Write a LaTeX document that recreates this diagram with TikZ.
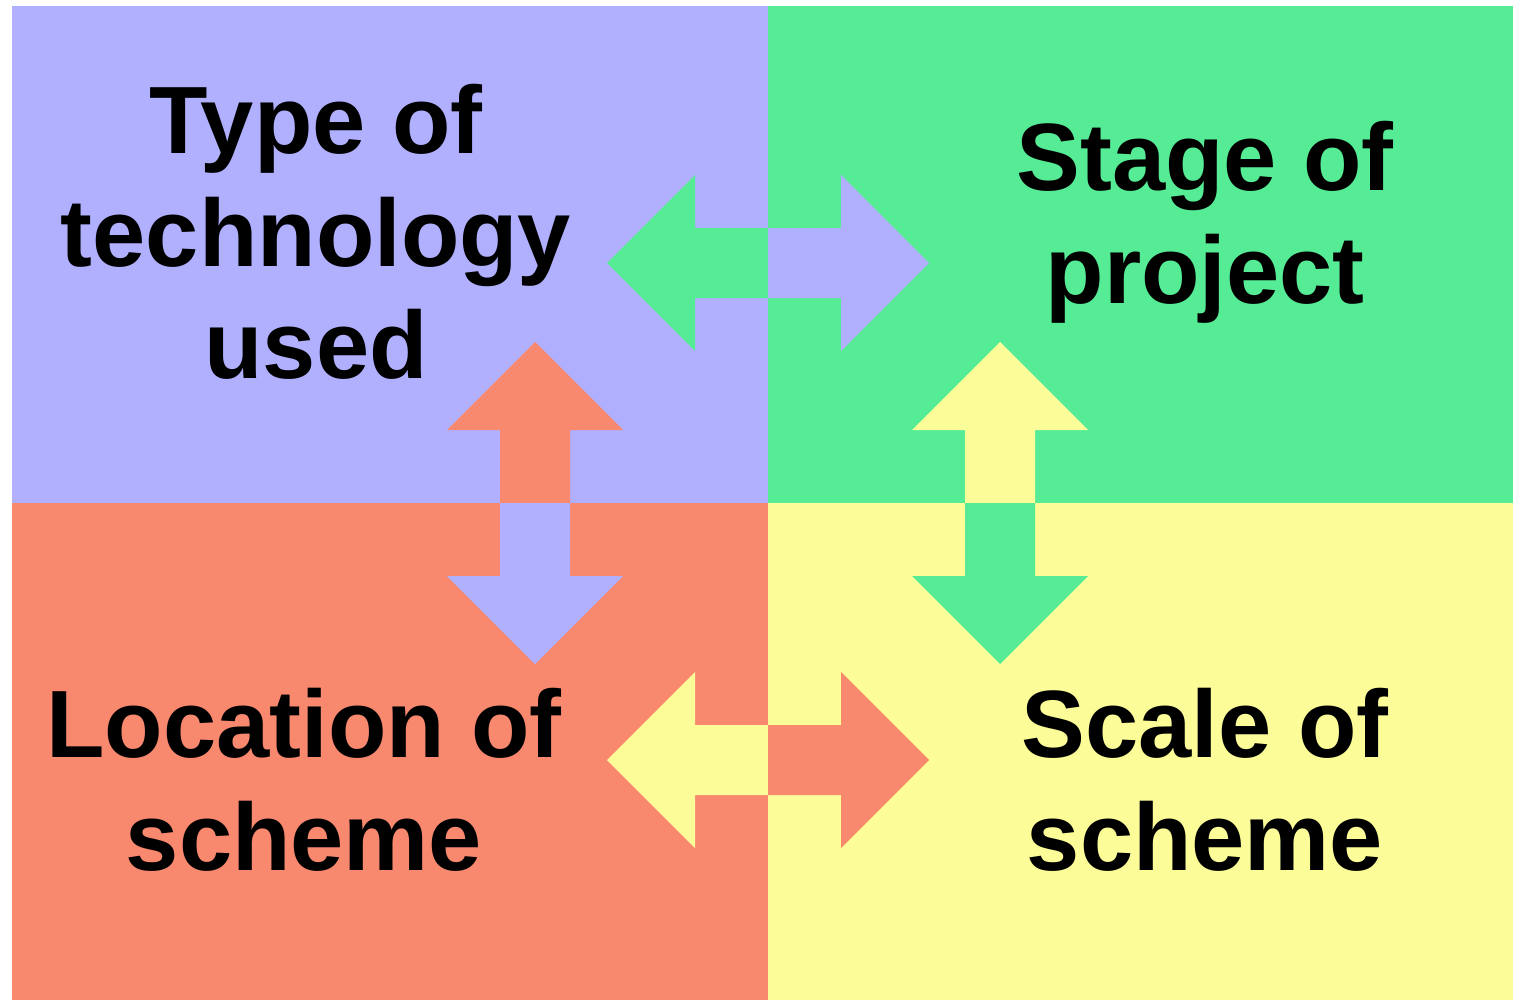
\documentclass[tikz,border=0pt]{standalone}
\usepackage{fontspec}
\setmainfont{Liberation Sans}

\definecolor{techblue}{RGB}{176,176,255}
\definecolor{stagegreen}{RGB}{86,236,150}
\definecolor{locsalmon}{RGB}{248,136,110}
\definecolor{scaleyellow}{RGB}{252,252,152}

\begin{document}
\begin{tikzpicture}[
  x=0.01cm, y=-0.01cm,
  quad_text/.style={inner sep=0pt, align=center, text=black,
                    font=\fontsize{27.2}{32}\selectfont\bfseries},
  half_arrow/.pic={
    \fill[#1] (0,-35) -- (73,-35) -- (73,-88) -- (161,0)
      -- (73,88) -- (73,35) -- (0,35) -- cycle;
  }
]
  \useasboundingbox (0,0) rectangle (1513,1000);

  % quadrants
  \fill[techblue]    (12,6)    rectangle (768,503);
  \fill[stagegreen]  (768,6)   rectangle (1513,503);
  \fill[locsalmon]   (12,503)  rectangle (768,1000);
  \fill[scaleyellow] (768,503) rectangle (1513,1000);

  \node[quad_text] (tech)     at (316,232) {Type of\\technology\\used};
  \node[quad_text] (stage)    at (1205,222) {Stage of\\project};
  \node[quad_text] (location) at (304,780) {Location of\\scheme};
  \node[quad_text] (scale)    at (1205,780) {Scale of\\scheme};

  % arrow centres on the borders
  \coordinate (top_mid)    at (768,263);
  \coordinate (bottom_mid) at (768,760);
  \coordinate (left_mid)   at (535,503);
  \coordinate (right_mid)  at (1000,503);

  \pic[rotate=180] at (top_mid)    {half_arrow=stagegreen};
  \pic             at (top_mid)    {half_arrow=techblue};
  \pic[rotate=90]  at (left_mid)   {half_arrow=locsalmon};
  \pic[rotate=-90] at (left_mid)   {half_arrow=techblue};
  \pic[rotate=90]  at (right_mid)  {half_arrow=scaleyellow};
  \pic[rotate=-90] at (right_mid)  {half_arrow=stagegreen};
  \pic[rotate=180] at (bottom_mid) {half_arrow=scaleyellow};
  \pic             at (bottom_mid) {half_arrow=locsalmon};
\end{tikzpicture}
\end{document}
